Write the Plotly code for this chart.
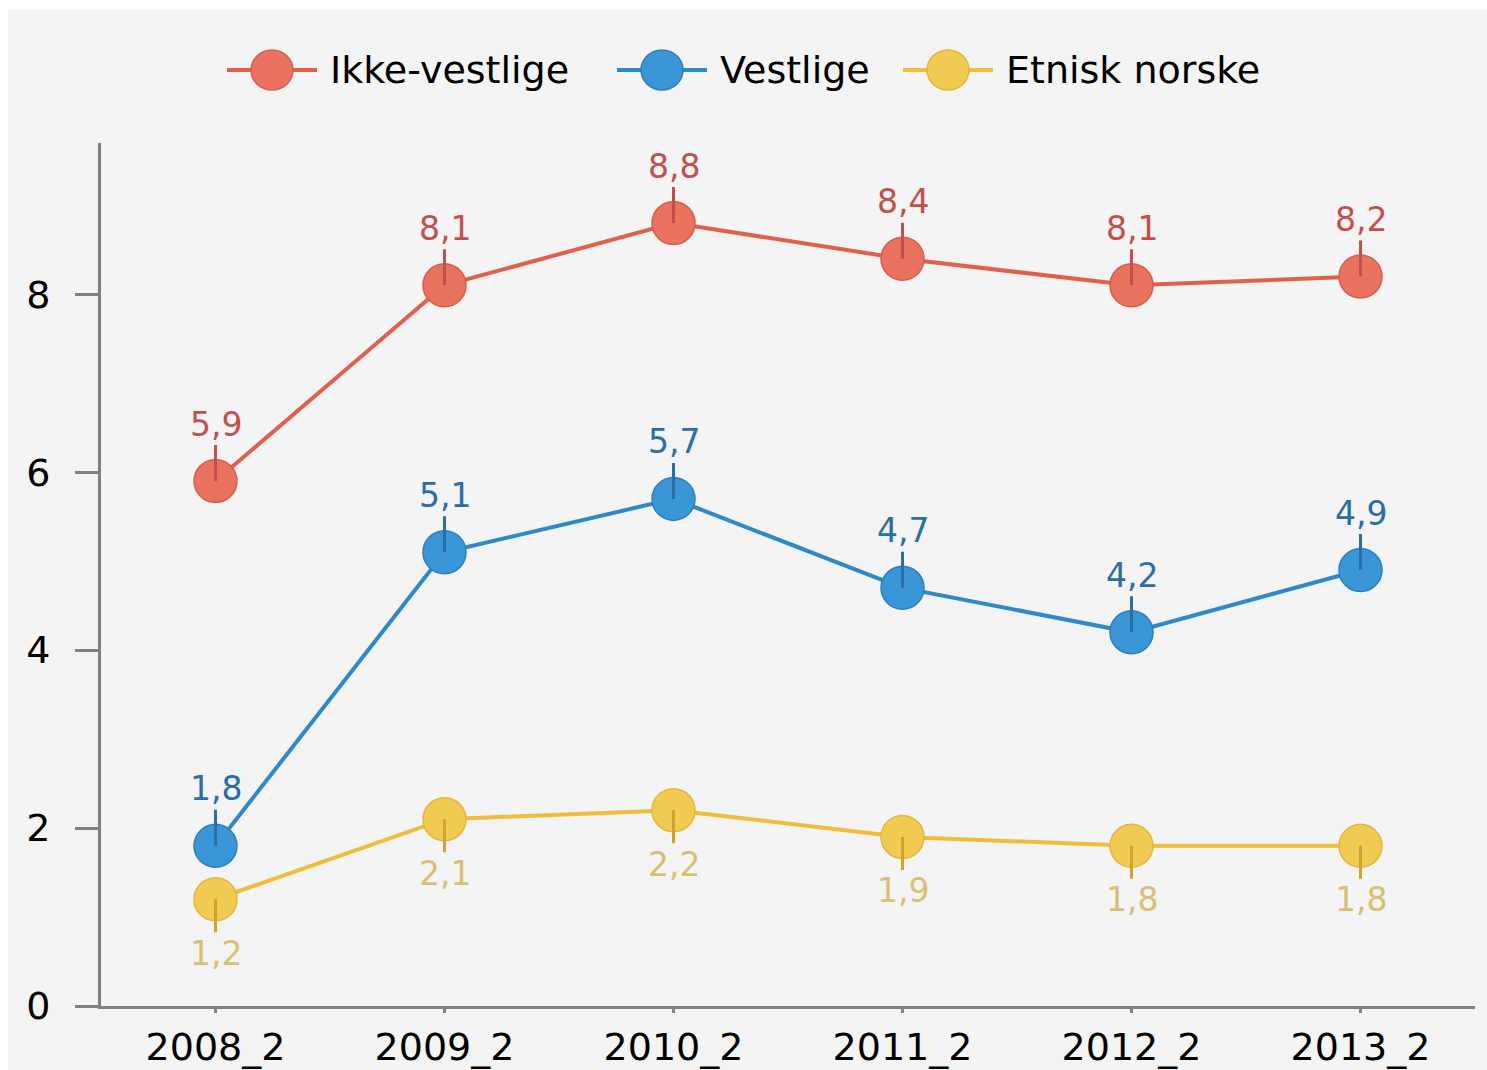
import plotly.graph_objects as go

# ---- data ----
categories = ["2008_2", "2009_2", "2010_2", "2011_2", "2012_2", "2013_2"]
series_names = ["Ikke-vestlige", "Vestlige", "Etnisk norske"]
ikke_vestlige = [5.9, 8.1, 8.8, 8.4, 8.1, 8.2]
vestlige = [1.8, 5.1, 5.7, 4.7, 4.2, 4.9]
etnisk_norske = [1.2, 2.1, 2.2, 1.9, 1.8, 1.8]
y_ticks = [0, 2, 4, 6, 8]

# ---- styles ----
W, H = 1487, 1070
M_L, M_R, M_T, M_B = 101, 12, 143, 64
styles = [
    dict(line="#e0604c", fill="#ea735f", edge="#d55f4c", label="#c0504d", conn="#c0504d", pos="above"),
    dict(line="#2f88c9", fill="#3a96d6", edge="#2c7fbd", label="#2a6ea6", conn="#2a6ea6", pos="above"),
    dict(line="#f0bc3a", fill="#f2cc52", edge="#e5b53c", label="#d9bf72", conn="#d0a22e", pos="below"),
]
series_values = [ikke_vestlige, vestlige, etnisk_norske]
FONT = "DejaVu Sans"

fig = go.Figure()
for name, vals, st in zip(series_names, series_values, styles):
    fig.add_trace(go.Scatter(
        x=categories, y=vals, name=name, mode="lines+markers",
        line=dict(color=st["line"], width=4),
        marker=dict(size=43, color=st["fill"], line=dict(color=st["edge"], width=1.5)),
        cliponaxis=False, showlegend=False, hoverinfo="skip",
    ))

annotations = []
for vals, st in zip(series_values, styles):
    for c, v in zip(categories, vals):
        annotations.append(dict(
            x=c, y=v, xref="x", yref="y",
            text=f"{v:.1f}".replace(".", ","),
            showarrow=True, arrowhead=0, arrowwidth=3, arrowcolor=st["conn"],
            ax=0, ay=-57 if st["pos"] == "above" else 54, standoff=0,
            font=dict(family=FONT, size=33, color=st["label"]),
        ))

# ---- custom legend (pixel layout converted to paper coords) ----
PW = W - M_L - M_R
PH = H - M_T - M_B


def px(xp):
    return (xp - M_L) / PW


def py(yp):
    return (H - M_B - yp) / PH


shapes = [
    # white strips around the grey panel
    dict(type="rect", xref="paper", yref="paper", x0=px(0), x1=px(W), y0=py(10), y1=py(0),
         fillcolor="white", line=dict(width=0), layer="above"),
    dict(type="rect", xref="paper", yref="paper", x0=px(0), x1=px(8), y0=py(H), y1=py(0),
         fillcolor="white", line=dict(width=0), layer="above"),
]
legend_centers = [272, 662, 948]
legend_y = 70
for name, cx, st in zip(series_names, legend_centers, styles):
    shapes.append(dict(type="line", xref="paper", yref="paper",
                       x0=px(cx - 45), x1=px(cx + 45), y0=py(legend_y), y1=py(legend_y),
                       line=dict(color=st["line"], width=4)))
    shapes.append(dict(type="circle", xref="paper", yref="paper",
                       x0=px(cx - 21), x1=px(cx + 21), y0=py(legend_y + 20), y1=py(legend_y - 20),
                       fillcolor=st["fill"], line=dict(color=st["edge"], width=1.5)))
    annotations.append(dict(xref="paper", yref="paper", x=px(cx + 56), y=py(legend_y),
                            xanchor="left", yanchor="middle", showarrow=False, text=name,
                            font=dict(family=FONT, size=38, color="black")))

fig.update_layout(
    width=W, height=H, autosize=False,
    margin=dict(l=M_L, r=M_R, t=M_T, b=M_B, pad=0),
    paper_bgcolor="#f4f4f4", plot_bgcolor="#f4f4f4",
    showlegend=False,
    annotations=annotations, shapes=shapes,
    font=dict(family=FONT, size=38, color="black"),
)
fig.update_xaxes(
    type="category", range=[-0.5, 5.5], showgrid=False, zeroline=False, automargin=False,
    showline=True, linecolor="#808080", linewidth=3,
    ticks="outside", ticklen=4, tickwidth=3, tickcolor="#808080",
    tickfont=dict(family=FONT, size=38, color="black"), ticklabelstandoff=1,
)
fig.update_yaxes(
    range=[0, 9.7], tickvals=y_ticks, showgrid=False, zeroline=False, automargin=False,
    showline=True, linecolor="#808080", linewidth=3,
    ticks="outside", ticklen=23, tickwidth=3, tickcolor="#808080",
    tickfont=dict(family=FONT, size=38, color="black"), ticklabelstandoff=17,
)

fig.write_html(
    "out.html",
    config={"displayModeBar": False, "responsive": False},
    post_script="document.body.style.margin='0';document.body.style.overflow='hidden';",
)
